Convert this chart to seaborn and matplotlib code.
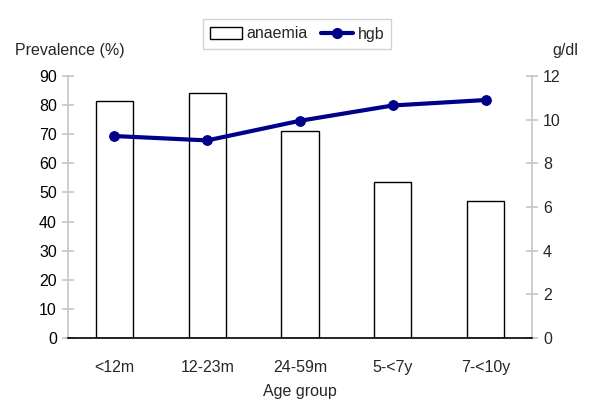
import matplotlib
matplotlib.use("Agg")
import matplotlib.pyplot as plt
import seaborn as sns
import pandas as pd
from matplotlib.patches import Patch
from matplotlib.lines import Line2D

categories = ["<12m", "12-23m", "24-59m", "5-<7y", "7-<10y"]
anaemia = [81.5, 84.0, 71.0, 53.5, 47.0]
hgb = [9.25, 9.05, 9.95, 10.65, 10.9]

sns.set_theme(style="white")
plt.rcParams['font.family'] = ['Liberation Sans', 'DejaVu Sans']

df = pd.DataFrame({"age": categories, "anaemia": anaemia, "hgb": hgb})

fig = plt.figure(figsize=(6, 4.16), dpi=100)
ax = fig.add_axes([68/600, 78/416, 464/600, 262/416])
sns.barplot(data=df, x="age", y="anaemia", ax=ax, width=0.4,
            color="white", edgecolor="black", linewidth=1.0, saturation=1)
ax.set_ylim(0, 90)
ax.set_xlim(-0.5, 4.5)
ax.set_yticks(range(0, 91, 10))
ax.set_xlabel("Age group", fontsize=11.5, labelpad=6)
ax.set_ylabel("")

ax2 = ax.twinx()
sns.lineplot(data=df, x="age", y="hgb", ax=ax2, color="#00008B",
             linewidth=3, marker="o", markersize=7, markeredgecolor="#00008B",
             sort=False)
ax2.set_ylim(0, 12)
ax2.set_yticks(range(0, 13, 2))
ax2.set_ylabel("")
ax2.set_xlim(-0.5, 4.5)

for a in (ax, ax2):
    a.spines["top"].set_visible(False)
    a.spines["left"].set_color("#c8c8c8")
    a.spines["right"].set_color("#c8c8c8")
    a.spines["bottom"].set_visible(False)
ax.spines["right"].set_visible(False)
ax2.spines["left"].set_visible(False)
ax2.spines["bottom"].set_visible(True)
ax2.spines["bottom"].set_color("black")
ax2.spines["bottom"].set_linewidth(1.2)

ax.tick_params(axis="y", direction="inout", length=8, left=True,
               labelsize=11.5, pad=4, colors="black")
ax.tick_params(axis="y", color="#c8c8c8")
ax2.tick_params(axis="y", direction="inout", length=8, right=True,
                labelsize=11.5, pad=4)
ax2.tick_params(axis="y", color="#c8c8c8")
ax.tick_params(axis="x", length=0, labelsize=11.5, pad=16)

fig.text(15/600, 1 - 50/416, "Prevalence (%)", fontsize=11.5, va="center", ha="left")
fig.text(578/600, 1 - 50/416, "g/dl", fontsize=11.5, va="center", ha="right")

handles = [Patch(facecolor="white", edgecolor="black", label="anaemia"),
           Line2D([0], [0], color="#00008B", lw=3, marker="o", markersize=7, label="hgb")]
leg = fig.legend(handles=handles, loc="center", bbox_to_anchor=(297/600, 1 - 34/416),
                 ncol=2, frameon=True, fancybox=False, fontsize=11.5,
                 handlelength=2.0, columnspacing=0.8, borderpad=0.45, handletextpad=0.3)
leg.get_frame().set_edgecolor("#c8c8c8")
leg.get_frame().set_linewidth(1)

fig.savefig("out.png", dpi=100)
